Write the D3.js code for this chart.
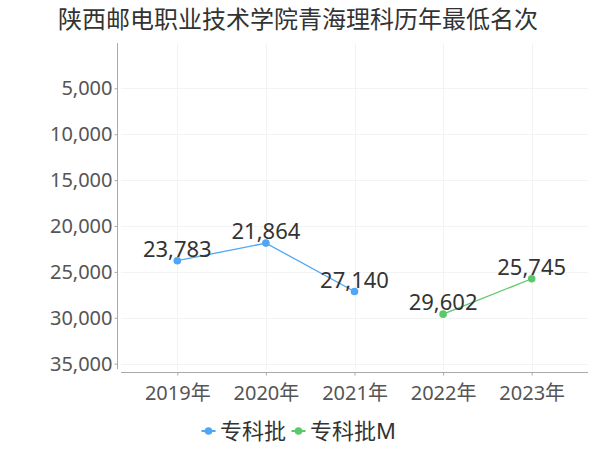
<!DOCTYPE html>
<html><head><meta charset="utf-8">
<script src="https://cdn.jsdelivr.net/npm/d3@7/dist/d3.min.js"></script>
<style>body{margin:0;background:#fff}svg{display:block}text{font-family:"Noto Sans","Noto Sans CJK SC",sans-serif}</style>
</head><body><svg id="c" width="600" height="450"></svg>
<script>
const title = "陕西邮电职业技术学院青海理科历年最低名次";
const years = ["2019年","2020年","2021年","2022年","2023年"];
const seriesNames = ["专科批","专科批M"];
const seriesYears = [["2019年","2020年","2021年"],["2022年","2023年"]];
const seriesValues = [[23783,21864,27140],[29602,25745]];
const colors = ["#4ea6f5","#5cc86c"];
const yTicks = [5000,10000,15000,20000,25000,30000,35000];

const svg = d3.select("#c");
const x = d3.scalePoint().domain(years).range([177.3,531.7]);
const y = d3.scaleLinear().domain([0,35600]).range([42.4,369.2]);
const fmt = d3.format(",");

svg.append("text").attr("x",298).attr("y",28).attr("text-anchor","middle")
  .attr("font-size",24).attr("fill","#333").text(title);

// grid
const g = svg.append("g");
g.selectAll(".hg").data(yTicks).join("line")
  .attr("x1",121).attr("x2",588).attr("y1",d=>Math.round(y(d))+0.5).attr("y2",d=>Math.round(y(d))+0.5)
  .attr("stroke","#f3f3f3");
g.selectAll(".vg").data(years).join("line")
  .attr("x1",d=>Math.round(x(d))+0.5).attr("x2",d=>Math.round(x(d))+0.5).attr("y1",43).attr("y2",370)
  .attr("stroke","#f3f3f3");

// y axis
const ya = svg.append("g").attr("transform","translate(117.5,0)")
  .call(d3.axisLeft(y).tickValues(yTicks).tickFormat(fmt).tickSize(3).tickSizeOuter(0));
ya.select(".domain").attr("stroke","#aaa").attr("d","M0,43V369");
ya.selectAll(".tick line").attr("stroke","#aaa");
ya.selectAll(".tick text").attr("font-size",20).attr("fill","#555").attr("x",-5).attr("font-family",'"Noto Sans",sans-serif');

// x axis
const xa = svg.append("g").attr("transform","translate(0,372.5)")
  .call(d3.axisBottom(x).tickSize(3).tickSizeOuter(0));
xa.select(".domain").attr("stroke","#aaa").attr("d","M121,0H588");
xa.selectAll(".tick line").attr("stroke","#aaa");
xa.selectAll(".tick text").attr("font-size",20).attr("fill","#555").attr("dy",0).attr("y",27)
  .attr("font-family",'"Noto Sans","Noto Sans CJK SC",sans-serif');

// series
seriesNames.forEach((name,i)=>{
  const pts = seriesYears[i].map((yr,j)=>({yr,v:seriesValues[i][j]}));
  svg.append("path").datum(pts)
    .attr("d",d3.line().x(d=>x(d.yr)).y(d=>y(d.v)))
    .attr("fill","none").attr("stroke",colors[i]).attr("stroke-width",1.3);
  svg.selectAll(".p"+i).data(pts).join("circle")
    .attr("cx",d=>x(d.yr)).attr("cy",d=>y(d.v)).attr("r",3.8).attr("fill",colors[i]);
  svg.selectAll(".l"+i).data(pts).join("text")
    .attr("x",d=>x(d.yr)).attr("y",d=>y(d.v)-4).attr("text-anchor","middle")
    .attr("font-size",22).attr("fill","#333").text(d=>fmt(d.v));
});

// legend
const legX = [201.5,291.5];
seriesNames.forEach((name,i)=>{
  const lg = svg.append("g").attr("transform",`translate(${legX[i]},431)`);
  lg.append("line").attr("x1",0).attr("x2",14).attr("stroke",colors[i]).attr("stroke-width",2);
  lg.append("circle").attr("cx",7).attr("cy",0).attr("r",3.8).attr("fill",colors[i]);
  lg.append("text").attr("x",18.5).attr("y",8).attr("font-size",22).attr("fill","#333")
    .attr("font-family",'"Noto Sans CJK SC",sans-serif').text(name);
});
</script></body></html>
